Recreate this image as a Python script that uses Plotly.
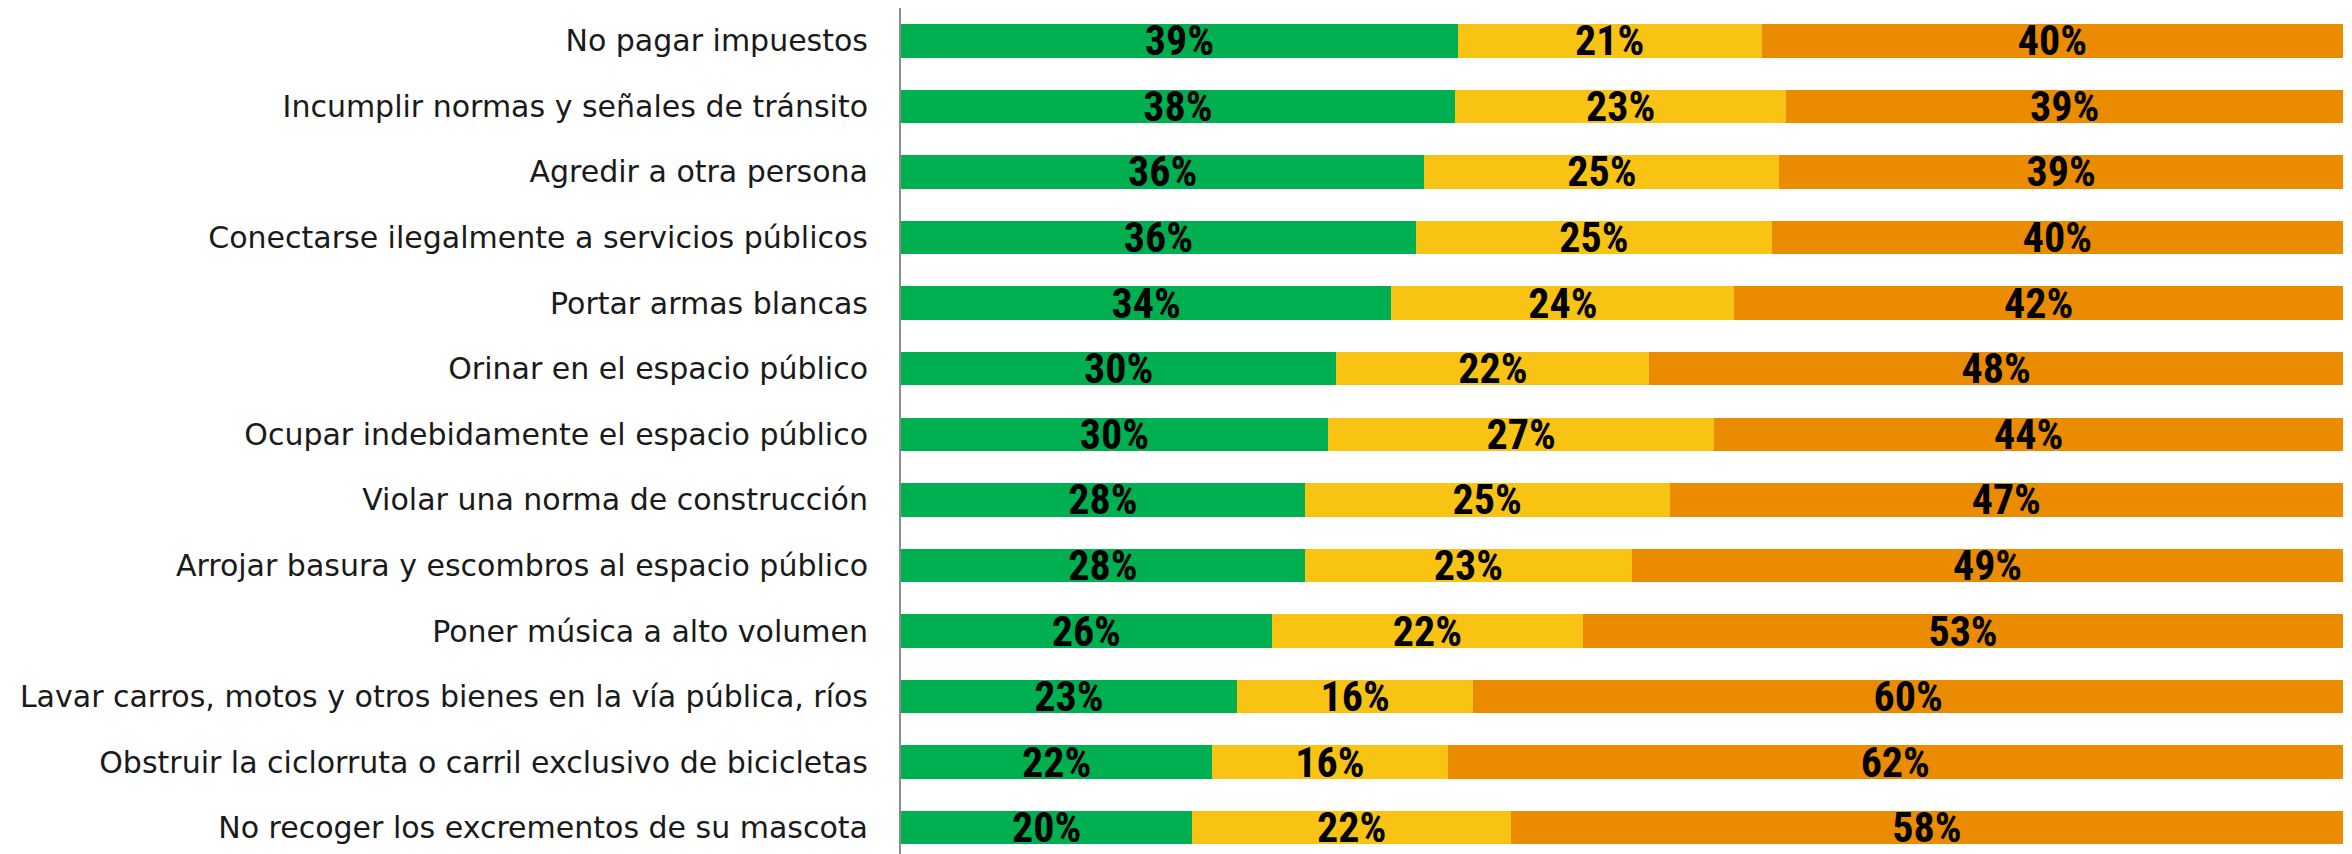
import plotly.graph_objects as go

categories = [
    "No pagar impuestos",
    "Incumplir normas y señales de tránsito",
    "Agredir a otra persona",
    "Conectarse ilegalmente a servicios públicos",
    "Portar armas blancas",
    "Orinar en el espacio público",
    "Ocupar indebidamente el espacio público",
    "Violar una norma de construcción",
    "Arrojar basura y escombros al espacio público",
    "Poner música a alto volumen",
    "Lavar carros, motos y otros bienes en la vía pública, ríos",
    "Obstruir la ciclorruta o carril exclusivo de bicicletas",
    "No recoger los excrementos de su mascota",
]

green_vals = [38.6, 38.4, 36.3, 35.7, 34.0, 30.2, 29.6, 28.0, 28.0, 25.7, 23.3, 21.6, 20.2]
yellow_vals = [21.1, 23.0, 24.6, 24.7, 23.8, 21.7, 26.8, 25.3, 22.7, 21.6, 16.4, 16.3, 22.1]
orange_vals = [40.3, 38.6, 39.1, 39.6, 42.2, 48.1, 43.6, 46.7, 49.3, 52.7, 60.3, 62.1, 57.7]

series = [
    ("Verde", green_vals, "#00B050"),
    ("Amarillo", yellow_vals, "#F9C313"),
    ("Naranja", orange_vals, "#EB8B00"),
]

fig = go.Figure()
for name, vals, color in series:
    fig.add_trace(
        go.Bar(
            y=categories,
            x=vals,
            name=name,
            orientation="h",
            marker=dict(color=color, line=dict(width=0)),
            texttemplate="%{x:.0f}%",
            textposition="inside",
            insidetextanchor="middle",
            constraintext="none",
            textfont=dict(
                family="Liberation Sans Narrow, Roboto Condensed, Arial Narrow, sans-serif",
                size=42,
                color="black",
                weight="bold",
            ),
            hoverinfo="skip",
        )
    )

# the page body adds an 8px margin, so the figure is sized to fit inside it
fig.update_layout(
    barmode="stack",
    bargap=0.49,
    width=2344,
    height=846,
    margin=dict(l=893, r=9, t=0, b=0),
    paper_bgcolor="white",
    plot_bgcolor="white",
    showlegend=False,
    font=dict(family="DejaVu Sans, sans-serif", color="#1a1a1a"),
)

fig.update_xaxes(
    range=[0, 100],
    visible=False,
    fixedrange=True,
)

fig.update_yaxes(
    type="category",
    categoryorder="array",
    categoryarray=categories,
    range=[12.4, -0.5],
    showline=True,
    linecolor="#8c8c8c",
    linewidth=2,
    ticks="",
    showgrid=False,
    ticklabelstandoff=25,
    tickfont=dict(family="DejaVu Sans, sans-serif", size=30, color="#1a1a1a"),
)

fig.write_html("out.html")
